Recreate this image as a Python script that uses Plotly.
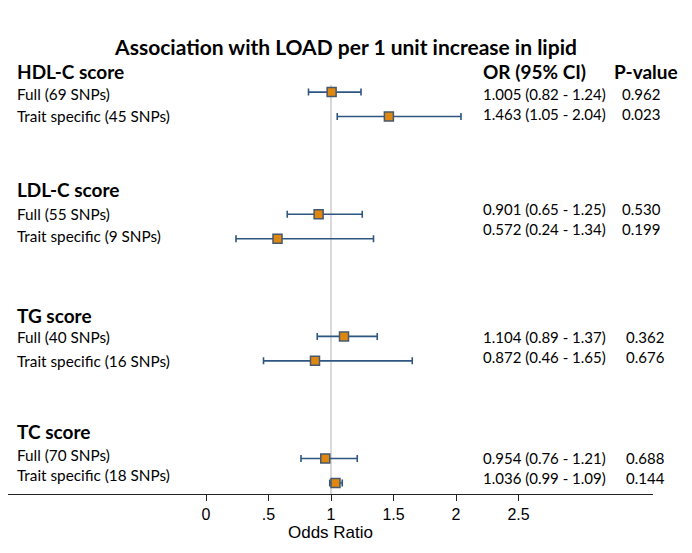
import plotly.graph_objects as go

# ---- data ----
groups = ["HDL-C score", "LDL-C score", "TG score", "TC score"]
row_labels = ["Full (69 SNPs)", "Trait specific (45 SNPs)",
              "Full (55 SNPs)", "Trait specific (9 SNPs)",
              "Full (40 SNPs)", "Trait specific (16 SNPs)",
              "Full (70 SNPs)", "Trait specific (18 SNPs)"]
odds_ratio = [1.005, 1.463, 0.901, 0.572, 1.104, 0.872, 0.954, 1.036]
ci_low = [0.82, 1.05, 0.65, 0.24, 0.89, 0.46, 0.76, 0.99]
ci_high = [1.24, 2.04, 1.25, 1.34, 1.37, 1.65, 1.21, 1.09]
p_values = ["0.962", "0.023", "0.530", "0.199", "0.362", "0.676", "0.688", "0.144"]
tick_vals = [0, 0.5, 1, 1.5, 2, 2.5]
tick_text = ["0", ".5", "1", "1.5", "2", "2.5"]

# row positions (row units, top to bottom)
row_pos = [0, 1, 5, 6, 10, 11, 15, 16]
header_pos = [-0.84, 3.98, 9.15, 13.9]
label_pos = [0.06, 0.96, 4.97, 5.87, 10.04, 10.99, 14.87, 15.69]
right_pos = [0.08, 0.9, 4.79, 5.6, 10.02, 10.84, 14.98, 15.79]
p_x = [0.950, 0.950, 0.950, 0.950, 0.956, 0.956, 0.956, 0.956]

Y_TOP, Y_BOT = -0.29, 16.45


def to_paper(r):
    return (Y_BOT - r) / (Y_BOT - Y_TOP)


or_text = [f"{o:.3f} ({l:.2f} - {h:.2f})" for o, l, h in zip(odds_ratio, ci_low, ci_high)]

FONT = "Lato"
err_plus = [h - o for o, h in zip(odds_ratio, ci_high)]
err_minus = [o - l for o, l in zip(odds_ratio, ci_low)]

fig = go.Figure()
fig.add_trace(go.Scatter(
    x=odds_ratio, y=row_pos, mode="markers",
    marker=dict(symbol="square", size=9, color="#E0870F",
                line=dict(color="#45596E", width=1.5)),
    error_x=dict(type="data", array=err_plus, arrayminus=err_minus,
                 color="#2F5680", thickness=1.6, width=3.5),
    showlegend=False, hoverinfo="skip", cliponaxis=False,
))

fig.add_shape(type="line", xref="x", yref="paper", x0=1, x1=1, y0=0, y1=1,
              line=dict(color="#D9D9D9", width=2), layer="below")

LX = 0.0124
RX = 0.735
ann = []


def add(text, x, r, size, anchor="left"):
    ann.append(dict(text=text, x=x, xref="paper", y=to_paper(r), yref="paper",
                    xanchor=anchor, yanchor="middle", showarrow=False,
                    borderpad=0,
                    font=dict(family=FONT, size=size, color="black")))


for g, r in zip(groups, header_pos):
    add(f"<b>{g}</b>", LX, r, 19)
for t, r in zip(row_labels, label_pos):
    add(t, LX, r, 15.3)
for t, r in zip(or_text, right_pos):
    add(t, RX, r, 15)
for t, r, px in zip(p_values, right_pos, p_x):
    add(t, px, r, 15)
add("<b>OR (95% CI)</b>", RX, header_pos[0], 19)
add("<b>P-value</b>", 0.989, header_pos[0], 19, anchor="center")

fig.update_layout(
    width=692, height=553,
    margin=dict(l=0, r=47, t=77, b=67),
    paper_bgcolor="white", plot_bgcolor="white",
    title=dict(text="<b>Association with LOAD per 1 unit increase in lipid</b>",
               x=(346 - 8) / 692, xanchor="center", y=1 - 40 / 553, yanchor="middle",
               font=dict(family=FONT, size=21, color="black")),
    xaxis=dict(range=[-1.584, 3.576], tickvals=tick_vals, ticktext=tick_text,
               showgrid=False, zeroline=False, showline=True,
               linecolor="#222", linewidth=1.3, ticks="outside", ticklen=6,
               tickcolor="#222", tickwidth=1.3,
               tickfont=dict(family="Liberation Sans", size=16, color="black"),
               title=dict(text="Odds Ratio", standoff=2,
                          font=dict(family="Liberation Sans", size=17, color="black"))),
    yaxis=dict(range=[Y_BOT, Y_TOP], visible=False, showgrid=False, zeroline=False),
    annotations=ann,
)

fig.write_html("out.html")
